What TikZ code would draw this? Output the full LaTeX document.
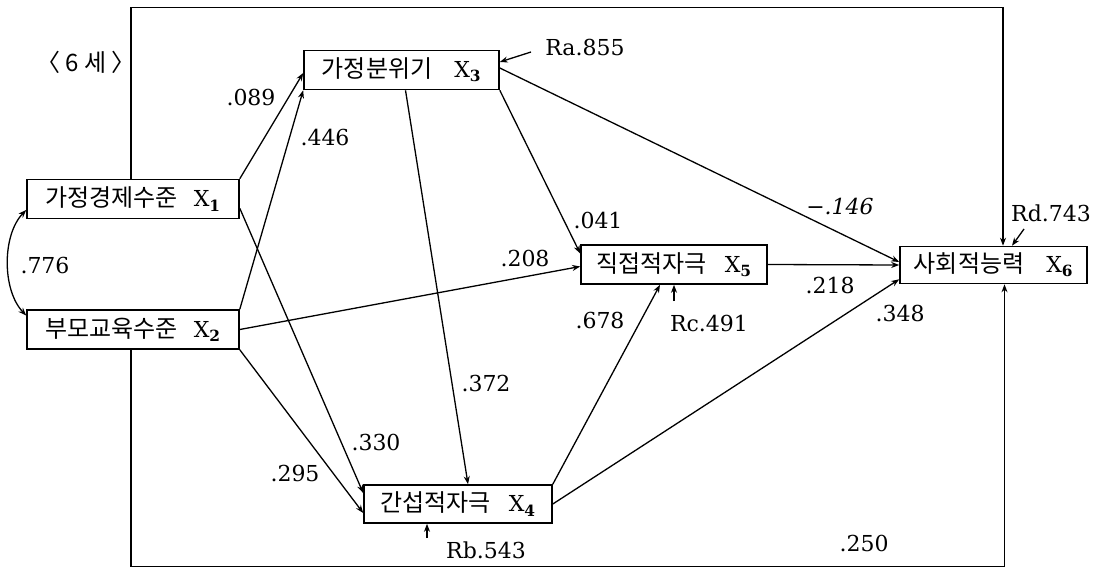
\documentclass[tikz,border=0pt]{standalone}
\usepackage{fontspec}
\setmainfont{DejaVu Serif}
\newfontfamily\kr{Noto Sans CJK KR}
\usetikzlibrary{arrows.meta,positioning}
\tikzset{
  >={Stealth[length=8pt,width=6pt]},
  every node/.style={font=\fontsize{22}{26}\selectfont},
  varbox/.style={draw,line width=1.6pt,minimum height=39pt,inner sep=0pt},
  arrow/.style={->,line width=1.3pt},
  coef/.style={inner sep=1pt},
  resid/.style={inner sep=1pt},
}
\newcommand{\kor}[1]{{\kr\fontsize{24}{28}\selectfont #1}}
\begin{document}
\begin{tikzpicture}[x=1pt,y=-1pt]
\useasboundingbox (0,0) rectangle (1107,572);

% variables
\node[varbox,minimum width=212pt] (x1) at (133,199) {\kor{가정경제수준}\hspace{16pt}X\textsubscript{\bfseries 1}};
\node[varbox,minimum width=212pt] (x2) at (133,329.5) {\kor{부모교육수준}\hspace{16pt}X\textsubscript{\bfseries 2}};
\node[varbox,minimum width=195pt] (x3) at (401.5,70) {\kor{가정분위기}\hspace{22pt}X\textsubscript{\bfseries 3}};
\node[varbox,minimum width=188pt,minimum height=38pt] (x4) at (458,504) {\kor{간섭적자극}\hspace{18pt}X\textsubscript{\bfseries 4}};
\node[varbox,minimum width=186pt] (x5) at (674,264.5) {\kor{직접적자극}\hspace{18pt}X\textsubscript{\bfseries 5}};
\node[varbox,minimum width=187pt,minimum height=37pt] (x6) at (993.5,265) {\kor{사회적능력}\hspace{22pt}X\textsubscript{\bfseries 6}};

\node at (86,62) {\kor{〈 6 세 〉}};

% paths
\draw[arrow] (x1.north east) -- ([yshift=-3pt]x3.west);
\draw[arrow] (x2.north east) -- (x3.south west);
\draw[arrow] ([yshift=11pt]x1.south east) -- ([yshift=11pt]x4.west);
\draw[arrow] (x2.south east) -- ([yshift=-9pt]x4.west);
\draw[arrow] (x2.east) -- ([yshift=-2pt]x5.west);
\draw[arrow] ([xshift=4pt]x3.south) -- ([xshift=10pt]x4.north);
\draw[arrow] (x3.south east) -- ([yshift=11pt]x5.west);
\draw[arrow] ([yshift=2pt]x3.east) -- ([yshift=3pt]x6.west);
\draw[arrow] (x4.north east) -- ([xshift=-14pt]x5.south);
\draw[arrow] (x5.east) -- (x6.west);
\draw[arrow] (x4.east) -- ([yshift=5pt]x6.south west);
\draw[arrow] ([xshift=-2pt]x1.north) -- ++(0,-171) -| ([xshift=9.5pt]x6.north);
\draw[arrow] ([xshift=-2pt]x2.south) -- ++(0,217) -| ([xshift=11pt]x6.south);
\draw[arrow,<->] ([yshift=-11pt]x1.west) .. controls (2,235) and (2,290) .. ([yshift=14pt]x2.west);

% coefficients
\node[coef] at (251,97) {.089};
\node[coef] at (325,137) {.446};
\node[coef] at (45,265) {.776};
\node[coef] at (525,258) {.208};
\node[coef] at (598,220) {.041};
\node[coef] at (840,206) {\itshape −.146};
\node[coef] at (830,285) {.218};
\node[coef] at (600,320) {.678};
\node[coef] at (900,313) {.348};
\node[coef] at (486,383) {.372};
\node[coef] at (376,442) {.330};
\node[coef] at (295,473) {.295};
\node[coef] at (864,543) {.250};

% residuals
\node[resid] (ra) at (585,47) {Ra.855};
\node[resid] (rb) at (486,550) {Rb.543};
\node[resid] (rc) at (709,323) {Rc.491};
\node[resid] (rd) at (1051,213) {Rd.743};
\coordinate (rat) at (531,52);
\coordinate (rbt) at (427,538);
\coordinate (rct) at (674,301);
\coordinate (rdt) at (1024,229);
\draw[arrow] (rat) -- ([yshift=8pt]x3.east);
\draw[arrow] (rbt) -- ([xshift=-31pt]x4.south);
\draw[arrow] (rct) -- (x5.south);
\draw[arrow] (rdt) -- ([xshift=18.5pt]x6.north);

\end{tikzpicture}
\end{document}
